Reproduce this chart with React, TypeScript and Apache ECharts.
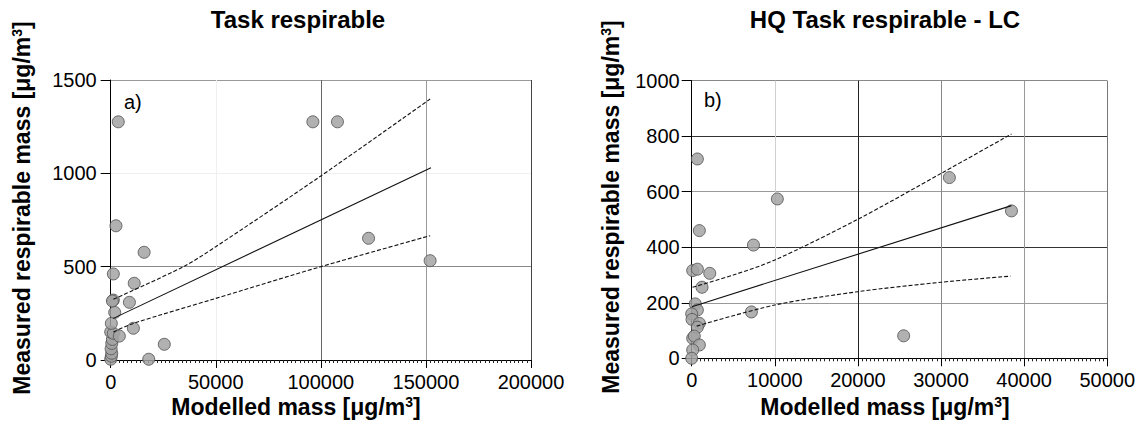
import React, { useEffect, useRef } from "react";
import * as echarts from "echarts";

// ---- Data ----
// Panel a) Task respirable: [modelled, measured]
const scatterA: [number, number][] = [
  [0, 4], [300, 20], [500, 36], [200, 60], [500, 89], [800, 110], [0, 150],
  [1250, 143], [300, 196], [1900, 255], [1250, 321], [800, 316],
  [8900, 309], [1250, 461], [11200, 411], [2500, 719], [3600, 1276],
  [96200, 1276], [107900, 1276], [15900, 577], [4100, 128], [10800, 170],
  [25500, 84], [18100, 4], [122700, 652], [152000, 532],
];
const fitA: [number, number][] = [[1250, 223], [152400, 1030]];
const upperA: [number, number][] = [[1250, 325], [34600, 500], [50000, 607], [100000, 986], [152000, 1398]];
const lowerA: [number, number][] = [[1250, 150], [10800, 196], [50000, 330], [100000, 500], [152000, 666]];

// Panel b) HQ Task respirable - LC
const scatterB: [number, number][] = [
  [680, 718], [10300, 574], [920, 460], [7430, 408], [120, 316], [680, 321],
  [2170, 306], [1240, 256], [430, 196], [680, 174], [0, 160], [40, 140],
  [920, 126], [680, 112], [120, 72], [310, 80], [920, 48], [120, 30], [0, 0],
  [7180, 167], [25500, 81], [31000, 651], [38470, 531],
];
const fitB: [number, number][] = [[40, 186], [38470, 550]];
const upperB: [number, number][] = [[100, 256], [5000, 300], [10000, 354], [20000, 501], [30000, 666], [38470, 808]];
const lowerB: [number, number][] = [[600, 116], [10000, 192], [20000, 240], [30000, 274], [38350, 296]];

const titles = ["Task respirable", "HQ Task respirable - LC"];
const panelTags = ["a)", "b)"];
const xName = "Modelled mass [μg/m{sup|3}]";
const yName = "Measured respirable mass [μg/m{sup|3}]";

const FONT = "'Liberation Sans', Arial, Helvetica, sans-serif";

export default function App() {
  const ref = useRef<HTMLDivElement>(null);
  useEffect(() => {
    if (!ref.current) return;
    const chart = echarts.init(ref.current, undefined, { renderer: "svg" });
    const label = { fontSize: 20, color: "#000", fontFamily: FONT, formatter: (v: number) => String(v) };
    const rich = {
      sup: { fontSize: 14, fontWeight: "bold" as const, fontFamily: FONT, color: "#000", padding: [0, 0, 10, 0] },
    };
    const nameStyle = { fontSize: 23, fontWeight: "bold" as const, fontFamily: FONT, fill: "#000", rich };
    const scatterStyle = { color: "#a3a3a3", borderColor: "#555", borderWidth: 1, opacity: 0.85 };
    const line = (data: [number, number][], idx: number, dashed: boolean) => ({
      type: "line" as const,
      xAxisIndex: idx,
      yAxisIndex: idx,
      data,
      showSymbol: false,
      symbol: "none",
      smooth: 0.3,
      z: 5,
      lineStyle: { color: "#111", width: 1.1, type: dashed ? [4, 2] : "solid" },
    });
    const xAxisBase = (max: number, interval: number, minorSplit: number, colors: string[], grid: number) => ({
      type: "value" as const,
      gridIndex: grid,
      min: 0,
      max,
      interval,
      axisLine: { show: true, lineStyle: { color: "#000", width: 1 } },
      axisTick: { show: true, length: 8, lineStyle: { color: "#000" } },
      minorTick: { show: true, splitNumber: minorSplit, length: 3, lineStyle: { color: "#222" } },
      splitLine: { show: true, lineStyle: { color: colors, width: 1 } },
      axisLabel: { ...label, margin: 12 },
    });
    const yAxisBase = (max: number, interval: number, colors: string[], grid: number, margin: number) => ({
      type: "value" as const,
      gridIndex: grid,
      min: 0,
      max,
      interval,
      axisLine: { show: true, lineStyle: { color: "#000", width: 1 } },
      axisTick: { show: true, length: 10, lineStyle: { color: "#000" } },
      splitLine: { show: true, lineStyle: { color: colors, width: 1 } },
      axisLabel: { ...label, margin },
    });
    chart.setOption({
      animation: false,
      backgroundColor: "#fff",
      grid: [
        { left: 110.7, top: 80, width: 420.3, height: 280 },
        { left: 691.7, top: 80.7, width: 415.6, height: 277.6 },
      ],
      xAxis: [
        xAxisBase(200000, 50000, 25, ["#000", "#f0f0f0", "#666", "#999", "#444"], 0),
        xAxisBase(50000, 10000, 20, ["#000", "#d0d0d0", "#222", "#888", "#999", "#777"], 1),
      ],
      yAxis: [
        yAxisBase(1500, 500, ["#000", "#8a8a8a", "#f0f0f0", "#999"], 0, 14),
        yAxisBase(1000, 200, ["#000", "#999", "#333", "#999", "#333", "#888"], 1, 12),
      ],
      series: [
        { type: "scatter", xAxisIndex: 0, yAxisIndex: 0, data: scatterA, symbolSize: 12, itemStyle: scatterStyle, z: 3 },
        line(fitA, 0, false),
        line(upperA, 0, true),
        line(lowerA, 0, true),
        { type: "scatter", xAxisIndex: 1, yAxisIndex: 1, data: scatterB, symbolSize: 12, itemStyle: scatterStyle, z: 3 },
        line(fitB, 1, false),
        line(upperB, 1, true),
        line(lowerB, 1, true),
      ],
      graphic: [
        { type: "text", x: 298, y: 19, style: { text: titles[0], fontSize: 24, fontWeight: "bold", fontFamily: FONT, fill: "#000", textAlign: "center", textVerticalAlign: "middle" } },
        { type: "text", x: 885, y: 19, style: { text: titles[1], fontSize: 24, fontWeight: "bold", fontFamily: FONT, fill: "#000", textAlign: "center", textVerticalAlign: "middle" } },
        { type: "text", x: 124, y: 102, style: { text: panelTags[0], fontSize: 20, fontFamily: FONT, fill: "#000", textAlign: "left", textVerticalAlign: "middle" } },
        { type: "text", x: 704, y: 100, style: { text: panelTags[1], fontSize: 20, fontFamily: FONT, fill: "#000", textAlign: "left", textVerticalAlign: "middle" } },
        { type: "text", x: 296, y: 407, style: { ...nameStyle, text: xName, textAlign: "center", textVerticalAlign: "middle" } },
        { type: "text", x: 885, y: 407, style: { ...nameStyle, text: xName, textAlign: "center", textVerticalAlign: "middle" } },
        { type: "text", x: 22, y: 208, rotation: Math.PI / 2, style: { ...nameStyle, text: yName, textAlign: "center", textVerticalAlign: "middle" } },
        { type: "text", x: 611, y: 207, rotation: Math.PI / 2, style: { ...nameStyle, text: yName, textAlign: "center", textVerticalAlign: "middle" } },
      ],
    });
    return () => chart.dispose();
  }, []);
  return <div ref={ref} style={{ position: "fixed", left: 0, top: 0, width: 1148, height: 424 }} />;
}
